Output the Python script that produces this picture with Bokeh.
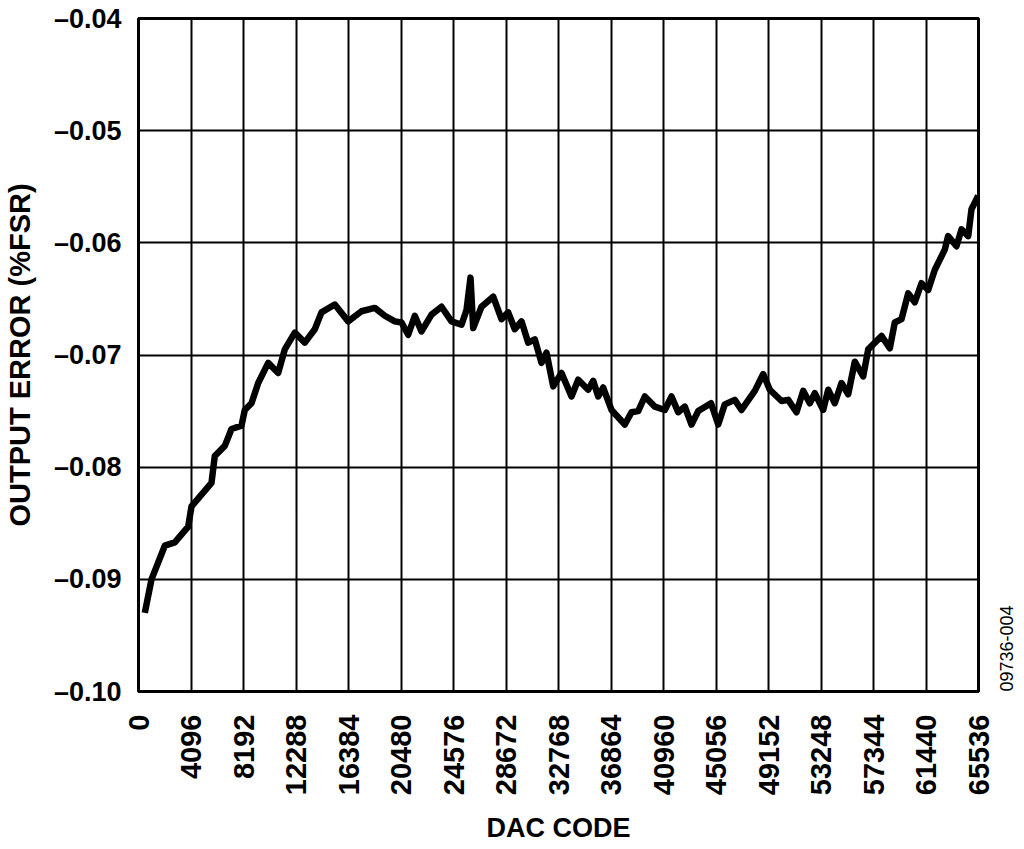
import math

from bokeh.embed import file_html
from bokeh.models import CustomJSTickFormatter, FixedTicker, LinearAxis, Range1d
from bokeh.plotting import figure
from bokeh.resources import INLINE

# DAC code vs output error
dac_code = [
    492, 1014, 2052, 2832, 3878, 4135, 5695, 5953, 6733, 7256,
    8036, 8293, 8816, 9339, 10119, 10899, 11414, 12194, 12975, 13755,
    14277, 15315, 16361, 17398, 18436, 19216, 19996, 20519, 21042, 21557,
    22079, 22860, 23640, 24420, 25200, 25590, 25902, 26113, 26761, 27674,
    28321, 28844, 29359, 29881, 30404, 30919, 31442, 31832, 32355, 33002,
    33782, 34305, 35085, 35475, 35865, 36255, 36903, 37941, 38464, 38986,
    39502, 40282, 41062, 41585, 42107, 42623, 43145, 43668, 44667, 45229,
    45743, 46523, 47046, 48084, 48739, 49254, 50170, 50689, 51337, 51859,
    52375, 52765, 53419, 53809, 54324, 54847, 55370, 55885, 56540, 56931,
    57968, 58616, 59006, 59529, 60052, 60567, 61089, 61612, 62128, 62908,
    63165, 63820, 64210, 64733, 64990, 65513,
]
output_error = [
    -0.0930, -0.0900, -0.0870, -0.0867, -0.0853, -0.0835, -0.0814, -0.0790, -0.0781, -0.0766,
    -0.0763, -0.0749, -0.0743, -0.0725, -0.0707, -0.0716, -0.0695, -0.0680, -0.0689, -0.0677,
    -0.0662, -0.0655, -0.0670, -0.0661, -0.0658, -0.0665, -0.0670, -0.0671, -0.0682, -0.0665,
    -0.0679, -0.0664, -0.0657, -0.0670, -0.0673, -0.0660, -0.0631, -0.0676, -0.0657, -0.0648,
    -0.0668, -0.0662, -0.0677, -0.0670, -0.0689, -0.0686, -0.0707, -0.0698, -0.0728, -0.0716,
    -0.0737, -0.0722, -0.0731, -0.0723, -0.0737, -0.0729, -0.0749, -0.0762, -0.0751, -0.0750,
    -0.0737, -0.0746, -0.0749, -0.0737, -0.0751, -0.0746, -0.0762, -0.0750, -0.0743, -0.0762,
    -0.0744, -0.0740, -0.0749, -0.0732, -0.0717, -0.0731, -0.0741, -0.0740, -0.0751, -0.0732,
    -0.0743, -0.0734, -0.0749, -0.0731, -0.0743, -0.0725, -0.0735, -0.0706, -0.0719, -0.0695,
    -0.0683, -0.0694, -0.0671, -0.0668, -0.0645, -0.0653, -0.0636, -0.0642, -0.0624, -0.0606,
    -0.0594, -0.0603, -0.0588, -0.0594, -0.0570, -0.0558,
]

x_ticks = [0, 4096, 8192, 12288, 16384, 20480, 24576, 28672, 32768,
           36864, 40960, 45056, 49152, 53248, 57344, 61440, 65536]
y_ticks = [-0.10, -0.09, -0.08, -0.07, -0.06, -0.05, -0.04]
figure_id = "09736-004"
figure_id_pos = [-0.10]  # the id text starts at the bottom of the right edge

FONT = "Liberation Sans"

p = figure(
    frame_width=840,
    frame_height=673,
    min_border_left=133,
    min_border_right=30,
    min_border_top=18,
    min_border_bottom=140,
    x_range=Range1d(0, 65536),
    y_range=Range1d(-0.10, -0.04),
    output_backend="svg",
    toolbar_location=None,
    background_fill_color="white",
    border_fill_color="white",
)

p.line(dac_code, output_error, line_width=6.5, color="black", line_join="round")

p.outline_line_color = "black"
p.outline_line_width = 3
p.outline_line_alpha = 1.0

for grid in (p.xgrid, p.ygrid):
    grid.grid_line_color = "black"
    grid.grid_line_width = 2
    grid.grid_line_alpha = 1.0
p.xgrid.ticker = FixedTicker(ticks=x_ticks)
p.ygrid.ticker = FixedTicker(ticks=y_ticks)

p.xaxis.ticker = FixedTicker(ticks=x_ticks)
p.yaxis.ticker = FixedTicker(ticks=y_ticks)
p.yaxis.formatter = CustomJSTickFormatter(
    code="return '\u2013' + Math.abs(tick).toFixed(2);"
)
p.xaxis.major_label_orientation = math.pi / 2

for ax in (p.xaxis, p.yaxis):
    ax.axis_line_color = None
    ax.major_tick_line_color = None
    ax.minor_tick_line_color = None
    ax.major_label_text_font = FONT
    ax.major_label_text_font_style = "bold"
    ax.major_label_text_color = "black"
    ax.axis_label_text_font = FONT
    ax.axis_label_text_font_style = "bold"
    ax.axis_label_text_color = "black"

p.xaxis.major_label_text_font_size = "29px"
p.xaxis.axis_label = "DAC CODE"
p.xaxis.axis_label_text_font_size = "27px"
p.xaxis.major_label_standoff = 17
p.xaxis.axis_label_standoff = 15

p.yaxis.major_label_text_font_size = "27px"
p.yaxis.axis_label = "OUTPUT ERROR (%FSR)"
p.yaxis.axis_label_text_font_size = "29px"
p.yaxis.major_label_standoff = 11
p.yaxis.axis_label_standoff = 15

# figure id printed sideways next to the right edge
id_axis = LinearAxis(
    ticker=FixedTicker(ticks=figure_id_pos),
    formatter=CustomJSTickFormatter(code="return '%s';" % figure_id),
    major_label_orientation=math.pi / 2,
    major_label_standoff=22,
    major_label_text_font=FONT,
    major_label_text_font_size="18px",
    major_label_text_color="black",
    axis_line_color=None,
    major_tick_line_color=None,
    minor_tick_line_color=None,
)
p.add_layout(id_axis, "right")

open("out.html", "w").write(file_html(p, INLINE))
